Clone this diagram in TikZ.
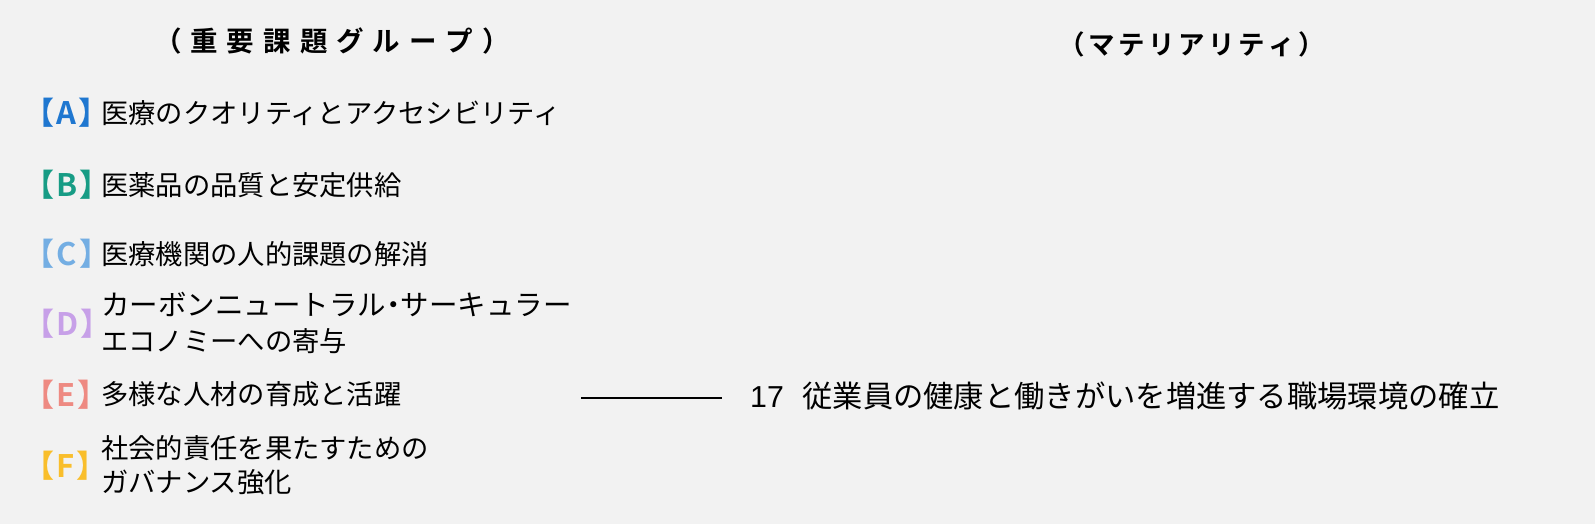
\documentclass[tikz,border=0pt]{standalone}
\usepackage{fontspec}
\setmainfont{Noto Sans CJK JP}[BoldFont={Noto Sans CJK JP Bold}]
\newfontfamily\brkfont{Noto Sans CJK JP Bold}[CharacterWidth=AlternateHalf]
\newfontfamily\latinfont{Liberation Sans}
\definecolor{bg}{HTML}{F2F2F2}
\definecolor{colA}{HTML}{1F77D0}
\definecolor{colB}{HTML}{179C85}
\definecolor{colC}{HTML}{74AEE3}
\definecolor{colD}{HTML}{C7A0E8}
\definecolor{colE}{HTML}{EE8A82}
\definecolor{colF}{HTML}{F9BE2B}
\newcommand\gapL{\kern9pt}
\newcommand\gapR{\kern3.5pt}
\newcommand\tagtxt[1]{【\kern2pt#1\kern2pt】}
\begin{document}
\begin{tikzpicture}[x=1pt,y=1pt,
  rowtext/.style={anchor=base west, inner sep=0pt, font=\fontsize{27.3}{30}\selectfont},
  tagbox/.style={anchor=base west, inner sep=0pt, font=\brkfont\fontsize{31}{34}\selectfont},
  headtext/.style={anchor=base, inner sep=0pt, font=\bfseries\fontsize{27.5}{30}\selectfont},
  matext/.style={anchor=base west, inner sep=0pt, font=\fontsize{30.3}{34}\selectfont},
  link/.style={line width=2pt, black}]
\useasboundingbox[fill=bg] (0,0) rectangle (1595,524);

% headers
\node[headtext] (h1) at (332,472) {（\gapL 重\gapL 要\gapL 課\gapL 題\gapL グ\gapL ル\gapL ー\gapL プ\gapL ）};
\node[headtext, font=\bfseries\fontsize{26.5}{30}\selectfont] (h2) at (1192,469) {（\gapR マ\gapR テ\gapR リ\gapR ア\gapR リ\gapR テ\gapR ィ\gapR ）};

% tags
\node[tagbox, text=colA] (ta) at (39,399) {\tagtxt{A}};
\node[tagbox, text=colB] (tb) at (39,327) {\tagtxt{B}};
\node[tagbox, text=colC] (tc) at (39,258) {\tagtxt{C}};
\node[tagbox, text=colD] (td) at (39,188) {\tagtxt{D}};
\node[tagbox, text=colE] (te) at (39,117) {\tagtxt{E}};
\node[tagbox, text=colF] (tf) at (39,46) {\tagtxt{F}};

% row texts
\node[rowtext] (ra) at (101,400) {医療のクオリティとアクセシビリティ};
\node[rowtext] (rb) at (101,328) {医薬品の品質と安定供給};
\node[rowtext] (rc) at (101,259) {医療機関の人的課題の解消};
\node[rowtext, font=\fontsize{28.5}{30}\selectfont] (rd1) at (101,208) {カーボンニュートラル\kern-7pt・\kern-7pt サーキュラー};
\node[rowtext] (rd2) at (101,172) {エコノミーへの寄与};
\node[rowtext] (re) at (101,119) {多様な人材の育成と活躍};
\node[rowtext] (rf1) at (101,65) {社会的責任を果たすための};
\node[rowtext] (rf2) at (101,31) {ガバナンス強化};

% materiality
\node[matext] (m17) at (750,116) {{\latinfont 17}\hspace{18.5pt}従業員の健康と働きがいを増進する職場環境の確立};

% connector
\coordinate (l1) at (581,126);
\coordinate (l2) at (722,126);
\draw[link] (l1) -- (l2);
\end{tikzpicture}
\end{document}
